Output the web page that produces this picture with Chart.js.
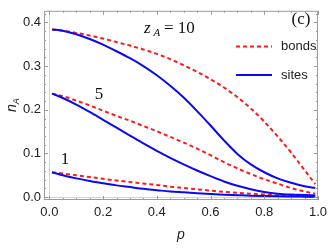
<!DOCTYPE html>
<html>
<head>
<meta charset="utf-8">
<script src="https://cdn.jsdelivr.net/npm/chart.js@4/dist/chart.umd.min.js"></script>
<style>
  html, body { margin: 0; padding: 0; background: #fff; }
  canvas { display: block; }
</style>
</head>
<body>
<canvas id="myChart" width="332" height="249"></canvas>
<script>
'use strict';

// values
let pValues = [0.01, 0.05, 0.1, 0.15, 0.2, 0.25, 0.3, 0.35, 0.4, 0.45, 0.5, 0.55, 0.6, 0.65, 0.7, 0.75, 0.8, 0.85, 0.9, 0.95, 0.99];

let bonds10 = [0.384, 0.381, 0.376, 0.370, 0.363, 0.355, 0.347, 0.338, 0.328, 0.316, 0.302, 0.287, 0.270, 0.251, 0.229, 0.203, 0.173, 0.139, 0.102, 0.062, 0.030];
let sites10 = [0.384, 0.381, 0.373, 0.362, 0.349, 0.334, 0.318, 0.300, 0.279, 0.255, 0.228, 0.197, 0.164, 0.130, 0.099, 0.075, 0.057, 0.043, 0.033, 0.025, 0.021];
let bonds5 = [0.237, 0.231, 0.221, 0.210, 0.198, 0.186, 0.175, 0.163, 0.151, 0.138, 0.125, 0.111, 0.096, 0.080, 0.066, 0.053, 0.041, 0.031, 0.021, 0.013, 0.008];
let sites5 = [0.237, 0.227, 0.212, 0.195, 0.177, 0.159, 0.141, 0.123, 0.106, 0.090, 0.075, 0.061, 0.048, 0.036, 0.026, 0.018, 0.012, 0.008, 0.006, 0.005, 0.004];
let bonds1 = [0.057, 0.054, 0.050, 0.046, 0.042, 0.038, 0.035, 0.031, 0.028, 0.024, 0.021, 0.018, 0.015, 0.012, 0.010, 0.008, 0.006, 0.004, 0.003, 0.002, 0.001];
let sites1 = [0.057, 0.050, 0.043, 0.037, 0.032, 0.027, 0.023, 0.019, 0.016, 0.013, 0.011, 0.009, 0.007, 0.0055, 0.0045, 0.0035, 0.0027, 0.002, 0.0015, 0.0012, 0.001];

let xTicks = [0, 0.2, 0.4, 0.6, 0.8, 1.0];
let xTickLabels = ['0.0', '0.2', '0.4', '0.6', '0.8', '1.0'];
let yTicks = [0, 0.1, 0.2, 0.3, 0.4];
let yTickLabels = ['0.0', '0.1', '0.2', '0.3', '0.4'];
let seriesNames = ['bonds', 'sites'];
let curveLabels = ['10', '5', '1'];

const RED = '#ff1a1a';
const BLUE = '#0a0af0';
const FRAME = '#9a9a9a';

function toPoints(arr) {
  return arr.map((v, i) => ({ x: pValues[i], y: v }));
}

function makeSet(label, arr, isBond) {
  return {
    label: label,
    data: toPoints(arr),
    borderColor: isBond ? RED : BLUE,
    borderWidth: 2,
    borderDash: isBond ? [4, 3] : [],
    pointRadius: 0,
    fill: false,
    cubicInterpolationMode: 'monotone'
  };
}

// frame, minor ticks, labels and legend
let decorations = {
  id: 'decorations',
  afterDraw(chart) {
    let ctx = chart.ctx;
    let a = chart.chartArea;
    let xs = chart.scales.x;
    let ys = chart.scales.y;
    ctx.save();

    ctx.strokeStyle = FRAME;
    ctx.lineWidth = 1;
    ctx.strokeRect(a.left + 0.5, a.top + 0.5, a.right - a.left - 1, a.bottom - a.top - 1);

    ctx.beginPath();
    for (let i = 0; i <= 20; i++) {
      let v = i * 0.05;
      let px = Math.round(xs.getPixelForValue(v)) + 0.5;
      let len = (i % 4 === 0) ? 4 : 2;
      ctx.moveTo(px, a.bottom);
      ctx.lineTo(px, a.bottom - len);
      ctx.moveTo(px, a.top);
      ctx.lineTo(px, a.top + len);
    }
    for (let i = 0; i <= 21; i++) {
      let v = i * 0.02;
      let py = Math.round(ys.getPixelForValue(v)) + 0.5;
      let len = (i % 5 === 0) ? 4 : 2;
      ctx.moveTo(a.left, py);
      ctx.lineTo(a.left + len, py);
      ctx.moveTo(a.right, py);
      ctx.lineTo(a.right - len, py);
    }
    ctx.stroke();

    // curve labels
    ctx.fillStyle = '#111';
    ctx.textBaseline = 'alphabetic';
    ctx.font = 'italic 17px "Liberation Serif"';
    ctx.textAlign = 'left';
    ctx.fillText('z', 144, 33);
    ctx.font = 'italic 11px "Liberation Serif"';
    ctx.fillText('A', 153.5, 36);
    ctx.font = '17px "Liberation Serif"';
    ctx.fillText('= ' + curveLabels[0], 164, 33);
    ctx.textAlign = 'center';
    ctx.fillText(curveLabels[1], 99, 99);
    ctx.fillText(curveLabels[2], 65, 164);
    ctx.fillText('(c)', 301, 24);

    // legend
    ctx.lineWidth = 2;
    ctx.strokeStyle = RED;
    ctx.setLineDash([4, 3]);
    ctx.beginPath();
    ctx.moveTo(236, 46.5);
    ctx.lineTo(272, 46.5);
    ctx.stroke();
    ctx.setLineDash([]);
    ctx.strokeStyle = BLUE;
    ctx.beginPath();
    ctx.moveTo(236, 75);
    ctx.lineTo(272, 75);
    ctx.stroke();
    ctx.font = '13px "Liberation Sans"';
    ctx.textAlign = 'left';
    ctx.textBaseline = 'middle';
    ctx.fillStyle = '#222';
    ctx.fillText(seriesNames[0], 281, 46);
    ctx.fillText(seriesNames[1], 281, 75);

    // y title n_A
    ctx.translate(16, 112);
    ctx.rotate(-Math.PI / 2);
    ctx.textBaseline = 'alphabetic';
    ctx.font = 'italic 14px "Liberation Sans"';
    ctx.fillText('n', 0, 0);
    let w = ctx.measureText('n').width;
    ctx.font = 'italic 9px "Liberation Sans"';
    ctx.fillText('A', w, 3);

    ctx.restore();
  }
};

let ctx = document.getElementById('myChart').getContext('2d');
let myChart = new Chart(ctx, {
  type: 'line',
  data: {
    datasets: [
      makeSet('sites 10', sites10, false),
      makeSet('sites 5', sites5, false),
      makeSet('sites 1', sites1, false),
      makeSet('bonds 10', bonds10, true),
      makeSet('bonds 5', bonds5, true),
      makeSet('bonds 1', bonds1, true)
    ]
  },
  options: {
    responsive: false,
    animation: false,
    layout: { padding: { top: 0, right: 12, left: 0, bottom: 0 } },
    plugins: { legend: { display: false }, tooltip: { enabled: false } },
    scales: {
      x: {
        type: 'linear',
        min: -0.02,
        max: 1.0,
        afterBuildTicks: (scale) => { scale.ticks = xTicks.map(v => ({ value: v })); },
        afterFit: (scale) => { scale.height = 49; },
        ticks: {
          padding: 5,
          maxRotation: 0,
          autoSkip: false,
          color: '#222',
          font: { family: 'Liberation Sans', size: 13 },
          callback: (v, i) => xTickLabels[i]
        },
        grid: {
          drawTicks: false,
          color: (c) => (c.tick && c.tick.value === 0) ? '#d4d4d4' : 'transparent'
        },
        border: { display: false },
        title: {
          display: true,
          text: 'p',
          color: '#222',
          font: { family: 'Liberation Sans', size: 14, style: 'italic' },
          padding: { top: 0, bottom: 5 }
        }
      },
      y: {
        type: 'linear',
        min: -0.0065,
        max: 0.4266,
        afterBuildTicks: (scale) => { scale.ticks = yTicks.map(v => ({ value: v })); },
        afterFit: (scale) => { scale.width = 44; },
        ticks: {
          padding: 3,
          autoSkip: false,
          color: '#222',
          font: { family: 'Liberation Sans', size: 13 },
          callback: (v, i) => yTickLabels[i]
        },
        grid: {
          drawTicks: false,
          color: (c) => (c.tick && c.tick.value === 0) ? '#d4d4d4' : 'transparent'
        },
        border: { display: false }
      }
    }
  },
  plugins: [decorations]
});
</script>
</body>
</html>
